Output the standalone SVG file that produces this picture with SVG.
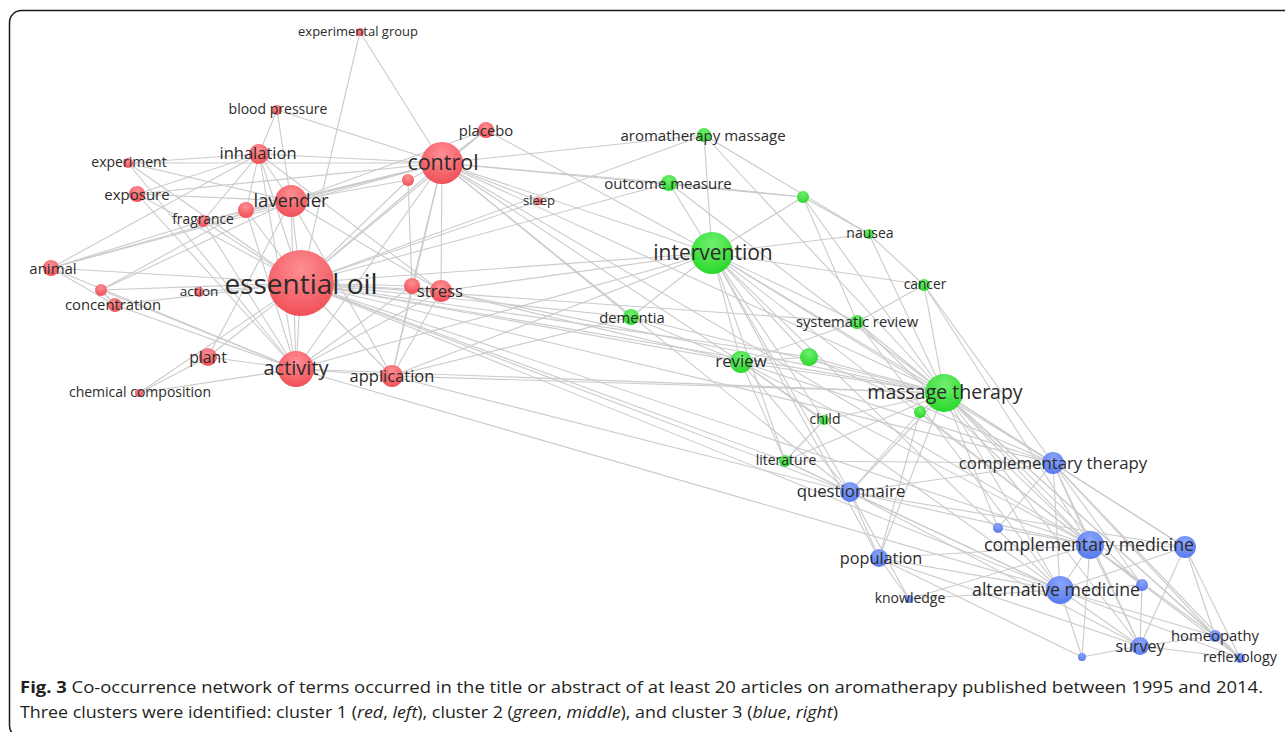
<svg xmlns="http://www.w3.org/2000/svg" width="1285" height="732" viewBox="0 0 1285 732">
<style>
.e{stroke:#c6c6c6;stroke-width:1.1;opacity:0.9;fill:none}
.l{font-family:"Open Sans","DejaVu Sans",sans-serif;fill:#2b2b2b;text-anchor:middle;dominant-baseline:central;transform:translateY(-1.5px)}
.cap{font-family:"Open Sans","Liberation Sans",Arial,sans-serif;font-size:16.5px;fill:#231f20}
.r{fill:url(#gr);opacity:0.95}
.g{fill:url(#gg);opacity:0.95}
.b{fill:url(#gb);opacity:0.95}
</style>
<defs>
<radialGradient id="gr" cx="50%" cy="30%" r="70%"><stop offset="0" stop-color="#ff8a8f"/><stop offset="1" stop-color="#f0474f"/></radialGradient>
<radialGradient id="gg" cx="50%" cy="30%" r="70%"><stop offset="0" stop-color="#6af06a"/><stop offset="1" stop-color="#1fd61f"/></radialGradient>
<radialGradient id="gb" cx="50%" cy="30%" r="70%"><stop offset="0" stop-color="#86a2fa"/><stop offset="1" stop-color="#4f74ee"/></radialGradient>
</defs>
<rect width="1285" height="732" fill="#fff"/>
<rect x="9.5" y="10.5" width="1300" height="727" rx="12" fill="none" stroke="#1a1a1a" stroke-width="1.5"/>
<g id="connectors" class="e">
<line x1="301" y1="283" x2="360" y2="32"/><line x1="301" y1="283" x2="259" y2="154"/><line x1="301" y1="283" x2="128" y2="163"/><line x1="301" y1="283" x2="137" y2="194"/><line x1="301" y1="283" x2="291" y2="201"/><line x1="301" y1="283" x2="246" y2="210"/><line x1="301" y1="283" x2="203" y2="221"/><line x1="301" y1="283" x2="442" y2="163"/><line x1="301" y1="283" x2="408" y2="180"/><line x1="301" y1="283" x2="486" y2="130"/><line x1="301" y1="283" x2="51" y2="268"/><line x1="301" y1="283" x2="115" y2="305"/><line x1="301" y1="283" x2="101" y2="290"/><line x1="301" y1="283" x2="199" y2="292"/><line x1="301" y1="283" x2="412" y2="286"/><line x1="301" y1="283" x2="441" y2="291"/><line x1="301" y1="283" x2="208" y2="357"/><line x1="301" y1="283" x2="296" y2="369"/><line x1="301" y1="283" x2="392" y2="376"/><line x1="301" y1="283" x2="139" y2="393"/><line x1="301" y1="283" x2="712" y2="253"/><line x1="301" y1="283" x2="741" y2="362"/><line x1="301" y1="283" x2="944" y2="393"/><line x1="301" y1="283" x2="631" y2="317"/><line x1="301" y1="283" x2="669" y2="183"/><line x1="301" y1="283" x2="704" y2="135"/><line x1="301" y1="283" x2="1053" y2="463"/><line x1="301" y1="283" x2="1090" y2="545"/><line x1="301" y1="283" x2="1060" y2="590"/><line x1="301" y1="283" x2="850" y2="492"/><line x1="301" y1="283" x2="857" y2="322"/><line x1="301" y1="283" x2="809" y2="357"/><line x1="301" y1="283" x2="785" y2="461"/><line x1="301" y1="283" x2="539" y2="201"/>
<line x1="442" y1="163" x2="360" y2="32"/><line x1="442" y1="163" x2="277" y2="110"/><line x1="442" y1="163" x2="259" y2="154"/><line x1="442" y1="163" x2="128" y2="163"/><line x1="442" y1="163" x2="137" y2="194"/><line x1="442" y1="163" x2="291" y2="201"/><line x1="442" y1="163" x2="246" y2="210"/><line x1="442" y1="163" x2="408" y2="180"/><line x1="442" y1="163" x2="486" y2="130"/><line x1="442" y1="163" x2="539" y2="201"/><line x1="442" y1="163" x2="51" y2="268"/><line x1="442" y1="163" x2="412" y2="286"/><line x1="442" y1="163" x2="441" y2="291"/><line x1="442" y1="163" x2="296" y2="369"/><line x1="442" y1="163" x2="392" y2="376"/><line x1="442" y1="163" x2="712" y2="253"/><line x1="442" y1="163" x2="669" y2="183"/><line x1="442" y1="163" x2="704" y2="135"/><line x1="442" y1="163" x2="803" y2="197"/><line x1="442" y1="163" x2="741" y2="362"/><line x1="442" y1="163" x2="944" y2="393"/><line x1="442" y1="163" x2="631" y2="317"/><line x1="442" y1="163" x2="203" y2="221"/><line x1="442" y1="163" x2="1090" y2="545"/><line x1="442" y1="163" x2="850" y2="492"/>
<line x1="259" y1="154" x2="277" y2="110"/><line x1="259" y1="154" x2="291" y2="201"/><line x1="259" y1="154" x2="128" y2="163"/><line x1="259" y1="154" x2="203" y2="221"/><line x1="259" y1="154" x2="296" y2="369"/><line x1="259" y1="154" x2="441" y2="291"/><line x1="259" y1="154" x2="51" y2="268"/><line x1="259" y1="154" x2="246" y2="210"/>
<line x1="291" y1="201" x2="277" y2="110"/><line x1="291" y1="201" x2="246" y2="210"/><line x1="291" y1="201" x2="203" y2="221"/><line x1="291" y1="201" x2="296" y2="369"/><line x1="291" y1="201" x2="51" y2="268"/><line x1="291" y1="201" x2="441" y2="291"/><line x1="291" y1="201" x2="392" y2="376"/><line x1="291" y1="201" x2="101" y2="290"/><line x1="291" y1="201" x2="486" y2="130"/><line x1="291" y1="201" x2="408" y2="180"/><line x1="291" y1="201" x2="137" y2="194"/><line x1="291" y1="201" x2="208" y2="357"/>
<line x1="296" y1="369" x2="51" y2="268"/><line x1="296" y1="369" x2="115" y2="305"/><line x1="296" y1="369" x2="101" y2="290"/><line x1="296" y1="369" x2="208" y2="357"/><line x1="296" y1="369" x2="139" y2="393"/><line x1="296" y1="369" x2="392" y2="376"/><line x1="296" y1="369" x2="203" y2="221"/><line x1="296" y1="369" x2="246" y2="210"/><line x1="296" y1="369" x2="712" y2="253"/><line x1="296" y1="369" x2="944" y2="393"/><line x1="296" y1="369" x2="1060" y2="590"/><line x1="296" y1="369" x2="128" y2="163"/><line x1="296" y1="369" x2="441" y2="291"/><line x1="296" y1="369" x2="412" y2="286"/><line x1="296" y1="369" x2="137" y2="194"/>
<line x1="208" y1="357" x2="139" y2="393"/><line x1="51" y1="268" x2="115" y2="305"/><line x1="51" y1="268" x2="203" y2="221"/><line x1="115" y1="305" x2="101" y2="290"/><line x1="101" y1="290" x2="246" y2="210"/><line x1="128" y1="163" x2="291" y2="201"/><line x1="137" y1="194" x2="259" y2="154"/>
<line x1="392" y1="376" x2="441" y2="291"/><line x1="392" y1="376" x2="412" y2="286"/><line x1="392" y1="376" x2="944" y2="393"/><line x1="392" y1="376" x2="712" y2="253"/><line x1="392" y1="376" x2="850" y2="492"/><line x1="392" y1="376" x2="631" y2="317"/>
<line x1="441" y1="291" x2="412" y2="286"/><line x1="441" y1="291" x2="712" y2="253"/><line x1="441" y1="291" x2="944" y2="393"/><line x1="441" y1="291" x2="741" y2="362"/><line x1="412" y1="286" x2="408" y2="180"/><line x1="486" y1="130" x2="712" y2="253"/>
<line x1="712" y1="253" x2="704" y2="135"/><line x1="712" y1="253" x2="669" y2="183"/><line x1="712" y1="253" x2="803" y2="197"/><line x1="712" y1="253" x2="869" y2="234"/><line x1="712" y1="253" x2="631" y2="317"/><line x1="712" y1="253" x2="741" y2="362"/><line x1="712" y1="253" x2="944" y2="393"/><line x1="712" y1="253" x2="857" y2="322"/><line x1="712" y1="253" x2="785" y2="461"/><line x1="712" y1="253" x2="824" y2="420"/><line x1="712" y1="253" x2="850" y2="492"/><line x1="712" y1="253" x2="1053" y2="463"/><line x1="712" y1="253" x2="1090" y2="545"/><line x1="712" y1="253" x2="1060" y2="590"/><line x1="712" y1="253" x2="879" y2="558"/><line x1="712" y1="253" x2="809" y2="357"/><line x1="712" y1="253" x2="924" y2="285"/>
<line x1="944" y1="393" x2="704" y2="135"/><line x1="944" y1="393" x2="669" y2="183"/><line x1="944" y1="393" x2="803" y2="197"/><line x1="944" y1="393" x2="869" y2="234"/><line x1="944" y1="393" x2="924" y2="285"/><line x1="944" y1="393" x2="857" y2="322"/><line x1="944" y1="393" x2="809" y2="357"/><line x1="944" y1="393" x2="741" y2="362"/><line x1="944" y1="393" x2="920" y2="412"/><line x1="944" y1="393" x2="824" y2="420"/><line x1="944" y1="393" x2="785" y2="461"/><line x1="944" y1="393" x2="1053" y2="463"/><line x1="944" y1="393" x2="1090" y2="545"/><line x1="944" y1="393" x2="1185" y2="547"/><line x1="944" y1="393" x2="1060" y2="590"/><line x1="944" y1="393" x2="850" y2="492"/><line x1="944" y1="393" x2="879" y2="558"/><line x1="944" y1="393" x2="1140" y2="646"/><line x1="944" y1="393" x2="1215" y2="636"/><line x1="944" y1="393" x2="1240" y2="658"/><line x1="944" y1="393" x2="1142" y2="585"/><line x1="944" y1="393" x2="998" y2="528"/><line x1="944" y1="393" x2="631" y2="317"/>
<line x1="704" y1="135" x2="869" y2="234"/><line x1="669" y1="183" x2="803" y2="197"/><line x1="803" y1="197" x2="869" y2="234"/><line x1="803" y1="197" x2="857" y2="322"/><line x1="869" y1="234" x2="924" y2="285"/><line x1="924" y1="285" x2="857" y2="322"/><line x1="924" y1="285" x2="1053" y2="463"/><line x1="924" y1="285" x2="1090" y2="545"/>
<line x1="857" y1="322" x2="741" y2="362"/><line x1="857" y1="322" x2="1090" y2="545"/><line x1="857" y1="322" x2="1060" y2="590"/><line x1="741" y1="362" x2="1090" y2="545"/><line x1="741" y1="362" x2="1060" y2="590"/><line x1="741" y1="362" x2="1053" y2="463"/><line x1="741" y1="362" x2="785" y2="461"/><line x1="741" y1="362" x2="850" y2="492"/><line x1="809" y1="357" x2="1053" y2="463"/><line x1="809" y1="357" x2="741" y2="362"/><line x1="920" y1="412" x2="879" y2="558"/><line x1="920" y1="412" x2="850" y2="492"/><line x1="920" y1="412" x2="1090" y2="545"/><line x1="824" y1="420" x2="741" y2="362"/><line x1="824" y1="420" x2="785" y2="461"/><line x1="785" y1="461" x2="850" y2="492"/><line x1="785" y1="461" x2="1053" y2="463"/><line x1="785" y1="461" x2="1060" y2="590"/><line x1="631" y1="317" x2="741" y2="362"/>
<line x1="850" y1="492" x2="1090" y2="545"/><line x1="850" y1="492" x2="1060" y2="590"/><line x1="850" y1="492" x2="1053" y2="463"/><line x1="850" y1="492" x2="879" y2="558"/><line x1="850" y1="492" x2="1140" y2="646"/><line x1="850" y1="492" x2="909" y2="599"/><line x1="850" y1="492" x2="1185" y2="547"/>
<line x1="1053" y1="463" x2="1090" y2="545"/><line x1="1053" y1="463" x2="1060" y2="590"/><line x1="1053" y1="463" x2="1185" y2="547"/><line x1="1053" y1="463" x2="1140" y2="646"/><line x1="1053" y1="463" x2="1215" y2="636"/><line x1="1053" y1="463" x2="1240" y2="658"/><line x1="1053" y1="463" x2="998" y2="528"/><line x1="1053" y1="463" x2="1142" y2="585"/>
<line x1="1090" y1="545" x2="1060" y2="590"/><line x1="1090" y1="545" x2="1185" y2="547"/><line x1="1090" y1="545" x2="1142" y2="585"/><line x1="1090" y1="545" x2="998" y2="528"/><line x1="1090" y1="545" x2="1140" y2="646"/><line x1="1090" y1="545" x2="1215" y2="636"/><line x1="1090" y1="545" x2="1240" y2="658"/><line x1="1090" y1="545" x2="1082" y2="657"/><line x1="1090" y1="545" x2="879" y2="558"/><line x1="1090" y1="545" x2="909" y2="599"/>
<line x1="1060" y1="590" x2="1185" y2="547"/><line x1="1060" y1="590" x2="1142" y2="585"/><line x1="1060" y1="590" x2="1140" y2="646"/><line x1="1060" y1="590" x2="1215" y2="636"/><line x1="1060" y1="590" x2="1240" y2="658"/><line x1="1060" y1="590" x2="1082" y2="657"/><line x1="1060" y1="590" x2="909" y2="599"/><line x1="1060" y1="590" x2="879" y2="558"/>
<line x1="1185" y1="547" x2="1215" y2="636"/><line x1="1185" y1="547" x2="1240" y2="658"/><line x1="1185" y1="547" x2="1140" y2="646"/><line x1="1140" y1="646" x2="1082" y2="657"/><line x1="1140" y1="646" x2="1215" y2="636"/><line x1="1140" y1="646" x2="1240" y2="658"/><line x1="1140" y1="646" x2="1142" y2="585"/><line x1="1215" y1="636" x2="1240" y2="658"/><line x1="879" y1="558" x2="1140" y2="646"/><line x1="879" y1="558" x2="1082" y2="657"/><line x1="879" y1="558" x2="909" y2="599"/>
</g>
<g id="n-experimental-group"><circle class="r" cx="360" cy="32" r="4"/><text class="l" x="358" y="32" font-size="13">experimental group</text></g>
<g id="n-blood-pressure"><circle class="r" cx="277" cy="110" r="5"/><text class="l" x="278" y="110" font-size="14">blood pressure</text></g>
<g id="n-inhalation"><circle class="r" cx="259" cy="154" r="10"/><text class="l" x="258" y="154" font-size="16.5">inhalation</text></g>
<g id="n-experiment"><circle class="r" cx="128" cy="163" r="5"/><text class="l" x="129" y="163" font-size="14">experiment</text></g>
<g id="n-exposure"><circle class="r" cx="137" cy="194" r="8"/><text class="l" x="137" y="195" font-size="15">exposure</text></g>
<g id="n-r1"><circle class="r" cx="246" cy="210" r="8"/></g>
<g id="n-lavender"><circle class="r" cx="291" cy="201" r="16"/><text class="l" x="291" y="201" font-size="18.5">lavender</text></g>
<g id="n-fragrance"><circle class="r" cx="203" cy="221" r="6"/><text class="l" x="203" y="220" font-size="13.8">fragrance</text></g>
<g id="n-r2"><circle class="r" cx="408" cy="180" r="6"/></g>
<g id="n-control"><circle class="r" cx="442" cy="163" r="21"/><text class="l" x="443" y="163" font-size="21.5">control</text></g>
<g id="n-placebo"><circle class="r" cx="486" cy="130" r="8"/><text class="l" x="486" y="131" font-size="14.8">placebo</text></g>
<g id="n-sleep"><circle class="r" cx="539" cy="201" r="4"/><text class="l" x="539" y="201" font-size="13">sleep</text></g>
<g id="n-animal"><circle class="r" cx="51" cy="268" r="8"/><text class="l" x="53" y="269" font-size="15">animal</text></g>
<g id="n-r3"><circle class="r" cx="101" cy="290" r="6"/></g>
<g id="n-concentration"><circle class="r" cx="115" cy="305" r="7"/><text class="l" x="113" y="305" font-size="14.8">concentration</text></g>
<g id="n-action"><circle class="r" cx="199" cy="292" r="5"/><text class="l" x="199" y="292" font-size="13.5">action</text></g>
<g id="n-essential-oil"><circle class="r" cx="301" cy="283" r="33"/><text class="l" x="301" y="284" font-size="28">essential oil</text></g>
<g id="n-r4"><circle class="r" cx="412" cy="286" r="8"/></g>
<g id="n-stress"><circle class="r" cx="441" cy="291" r="11"/><text class="l" x="440" y="292" font-size="16.8">stress</text></g>
<g id="n-plant"><circle class="r" cx="208" cy="357" r="9"/><text class="l" x="208" y="358" font-size="15.8">plant</text></g>
<g id="n-activity"><circle class="r" cx="296" cy="369" r="18"/><text class="l" x="296" y="369" font-size="20">activity</text></g>
<g id="n-application"><circle class="r" cx="392" cy="376" r="11"/><text class="l" x="392" y="377" font-size="16.5">application</text></g>
<g id="n-chemical-composition"><circle class="r" cx="139" cy="393" r="4"/><text class="l" x="140" y="393" font-size="14">chemical composition</text></g>
<g id="n-aromatherapy-massage"><circle class="g" cx="704" cy="135" r="7"/><text class="l" x="703" y="136" font-size="15">aromatherapy massage</text></g>
<g id="n-outcome-measure"><circle class="g" cx="669" cy="183" r="8"/><text class="l" x="668" y="184" font-size="15">outcome measure</text></g>
<g id="n-g1"><circle class="g" cx="803" cy="197" r="6"/></g>
<g id="n-nausea"><circle class="g" cx="869" cy="234" r="5"/><text class="l" x="870" y="234" font-size="14">nausea</text></g>
<g id="n-intervention"><circle class="g" cx="712" cy="253" r="21"/><text class="l" x="713" y="253" font-size="21">intervention</text></g>
<g id="n-cancer"><circle class="g" cx="924" cy="285" r="6"/><text class="l" x="925" y="285" font-size="13.8">cancer</text></g>
<g id="n-dementia"><circle class="g" cx="631" cy="317" r="8"/><text class="l" x="632" y="318" font-size="14.8">dementia</text></g>
<g id="n-systematic-review"><circle class="g" cx="857" cy="322" r="7"/><text class="l" x="857" y="322" font-size="14.8">systematic review</text></g>
<g id="n-g2"><circle class="g" cx="809" cy="357" r="9"/></g>
<g id="n-review"><circle class="g" cx="741" cy="362" r="11"/><text class="l" x="741" y="362" font-size="16.8">review</text></g>
<g id="n-g3"><circle class="g" cx="920" cy="412" r="6"/></g>
<g id="n-massage-therapy"><circle class="g" cx="944" cy="393" r="19"/><text class="l" x="945" y="393" font-size="19.5">massage therapy</text></g>
<g id="n-child"><circle class="g" cx="824" cy="420" r="5"/><text class="l" x="825" y="420" font-size="14">child</text></g>
<g id="n-literature"><circle class="g" cx="785" cy="461" r="6"/><text class="l" x="786" y="461" font-size="14">literature</text></g>
<g id="n-complementary-therapy"><circle class="b" cx="1053" cy="463" r="11"/><text class="l" x="1053" y="464" font-size="16.8">complementary therapy</text></g>
<g id="n-questionnaire"><circle class="b" cx="850" cy="492" r="10"/><text class="l" x="851" y="492" font-size="16.8">questionnaire</text></g>
<g id="n-b1"><circle class="b" cx="998" cy="528" r="5"/></g>
<g id="n-b2"><circle class="b" cx="1185" cy="547" r="11"/></g>
<g id="n-b3"><circle class="b" cx="1142" cy="585" r="6"/></g>
<g id="n-complementary-medicine"><circle class="b" cx="1090" cy="545" r="14"/><text class="l" x="1089" y="545" font-size="17.7">complementary medicine</text></g>
<g id="n-population"><circle class="b" cx="879" cy="558" r="9"/><text class="l" x="881" y="559" font-size="16.3">population</text></g>
<g id="n-alternative-medicine"><circle class="b" cx="1060" cy="590" r="14"/><text class="l" x="1056" y="590" font-size="17.7">alternative medicine</text></g>
<g id="n-knowledge"><circle class="b" cx="909" cy="599" r="4"/><text class="l" x="910" y="599" font-size="14">knowledge</text></g>
<g id="n-homeopathy"><circle class="b" cx="1215" cy="636" r="6"/><text class="l" x="1215" y="636" font-size="14.8">homeopathy</text></g>
<g id="n-b4"><circle class="b" cx="1082" cy="657" r="4"/></g>
<g id="n-survey"><circle class="b" cx="1140" cy="646" r="9"/><text class="l" x="1140" y="647" font-size="16">survey</text></g>
<g id="n-reflexology"><circle class="b" cx="1240" cy="658" r="5"/><text class="l" x="1240" y="658" font-size="14.4">reflexology</text></g>
<g id="caption">
<text class="cap" x="20" y="693" textLength="1243" lengthAdjust="spacingAndGlyphs"><tspan font-weight="bold">Fig. 3</tspan>  Co-occurrence network of terms occurred in the title or abstract of at least 20 articles on aromatherapy published between 1995 and 2014.</text>
<text class="cap" x="20" y="718" textLength="818" lengthAdjust="spacingAndGlyphs">Three clusters were identified: cluster 1 (<tspan font-style="italic">red</tspan>, <tspan font-style="italic">left</tspan>), cluster 2 (<tspan font-style="italic">green</tspan>, <tspan font-style="italic">middle</tspan>), and cluster 3 (<tspan font-style="italic">blue</tspan>, <tspan font-style="italic">right</tspan>)</text>
</g>
</svg>
